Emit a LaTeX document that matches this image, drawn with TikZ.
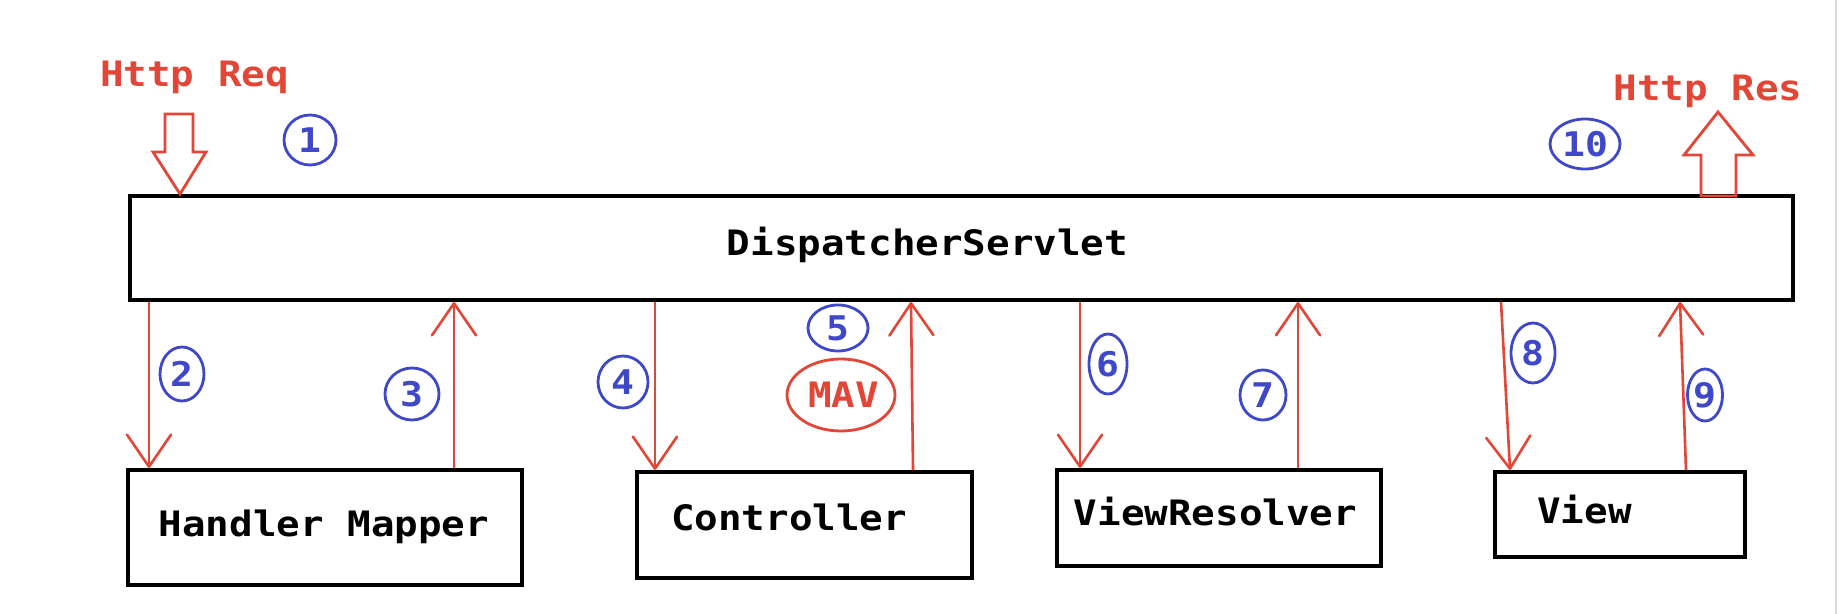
\documentclass[tikz,border=0pt]{standalone}
\usepackage{fontspec}
\usetikzlibrary{arrows.meta,shapes.geometric,calc}
\newfontfamily\labf[FakeStretch=1.12]{DejaVu Sans Mono}
\definecolor{redc}{RGB}{226,70,55}
\definecolor{bluec}{RGB}{62,72,200}
\begin{document}
\begin{tikzpicture}[x=0.5pt,y=-0.5pt,
  box/.style={draw=black, line width=2pt, inner sep=0pt},
  lab/.style={font=\labf\bfseries\fontsize{17.5pt}{20pt}\selectfont, inner sep=0pt, anchor=base},
  redlab/.style={lab, text=redc},
  num/.style={ellipse, draw=bluec, line width=1.4pt, inner sep=0pt, text=bluec,
              font=\labf\bfseries\fontsize{17pt}{19pt}\selectfont},
  flow/.style={draw=redc, line width=1.3pt, -{Straight Barb[length=16pt,width=22pt,round]}},
  hollow/.style={draw=redc, line width=1.4pt, line join=miter}]
\useasboundingbox[fill=white] (0,0) rectangle (1840,614);
\draw[black!15, line width=1pt] (1836,0) -- (1836,614);

% boxes
\node[box, minimum width=831.5pt, minimum height=52pt] (ds) at (961.5,248) {};
\node[box, minimum width=197pt, minimum height=57.5pt] (hm) at (325,527.5) {};
\node[box, minimum width=167.5pt, minimum height=53pt] (ctrl) at (804.5,525) {};
\node[box, minimum width=162pt, minimum height=48pt] (vr) at (1219,518) {};
\node[box, minimum width=125pt, minimum height=42.5pt] (view) at (1620,514.5) {};

% box texts
\node[lab] (dst) at (927.5,256) {DispatcherServlet};
\node[lab] (hmt) at (324,536) {Handler Mapper};
\node[lab] (ctrlt) at (789,530) {Controller};
\node[lab] (vrt) at (1215.5,525) {ViewResolver};
\node[lab] (viewt) at (1584.5,523) {View};

% http labels
\node[redlab] (req) at (194.5,87) {Http Req};
\node[redlab] (res) at (1708,101) {Http Res};

% hollow arrows
\coordinate (reqtip) at ($(ds.north west)+(52,0)$);
\draw[hollow] (reqtip) -- ++(-27,-42) -- ++(12,0) -- ++(0,-38) -- ++(28,0)
  -- ++(0,38) -- ++(13,0) -- cycle;
\coordinate (resbase) at ($(ds.north west)+(1590,2)$);
\draw[hollow] (resbase) ++(-17,0) -- ++(0,-41) -- ++(-17,0) -- ++(34,-43)
  -- ++(35,43) -- ++(-17,0) -- ++(0,41) -- cycle;

% flow arrows
\draw[flow] ($(ds.south west)+(21,0)$) -- ($(hm.north west)+(23,0)$);
\draw[flow] ($(hm.north west)+(328,0)$) -- ($(ds.south west)+(326,0)$);
\draw[flow] ($(ds.south west)+(527,0)$) -- ($(ctrl.north west)+(20,0)$);
\draw[flow] ($(ctrl.north west)+(278,0)$) -- ($(ds.south west)+(783,0)$);
\draw[flow] ($(ds.south west)+(952,0)$) -- ($(vr.north west)+(25,0)$);
\draw[flow] ($(vr.north west)+(243,0)$) -- ($(ds.south west)+(1170,0)$);
\draw[flow] ($(ds.south west)+(1373,0)$) -- ($(view.north west)+(17,0)$);
\draw[flow] ($(view.north west)+(193,0)$) -- ($(ds.south west)+(1552,0)$);

% step numbers
\node[num, minimum width=26pt, minimum height=25pt] (n1) at (310,140) {1};
\node[num, minimum width=22pt, minimum height=27pt] (n2) at (182,374) {2};
\node[num, minimum width=27pt, minimum height=26pt] (n3) at (412,394) {3};
\node[num, minimum width=25pt, minimum height=26pt] (n4) at (623,382) {4};
\node[num, minimum width=30pt, minimum height=23pt] (n5) at (838,328) {5};
\node[num, minimum width=19pt, minimum height=30pt] (n6) at (1108,364) {6};
\node[num, minimum width=23pt, minimum height=25pt] (n7) at (1263,395) {7};
\node[num, minimum width=22pt, minimum height=30pt] (n8) at (1533,353) {8};
\node[num, minimum width=17.5pt, minimum height=26pt] (n9) at (1705,395) {9};
\node[num, minimum width=35pt, minimum height=25pt] (n10) at (1585,144) {10};

% MAV
\node[ellipse, draw=redc, line width=1.4pt, minimum width=54pt, minimum height=36pt, inner sep=0pt] (mav) at (841,395) {};
\node[redlab] (mavt) at (843.5,408) {MAV};
\end{tikzpicture}
\end{document}
